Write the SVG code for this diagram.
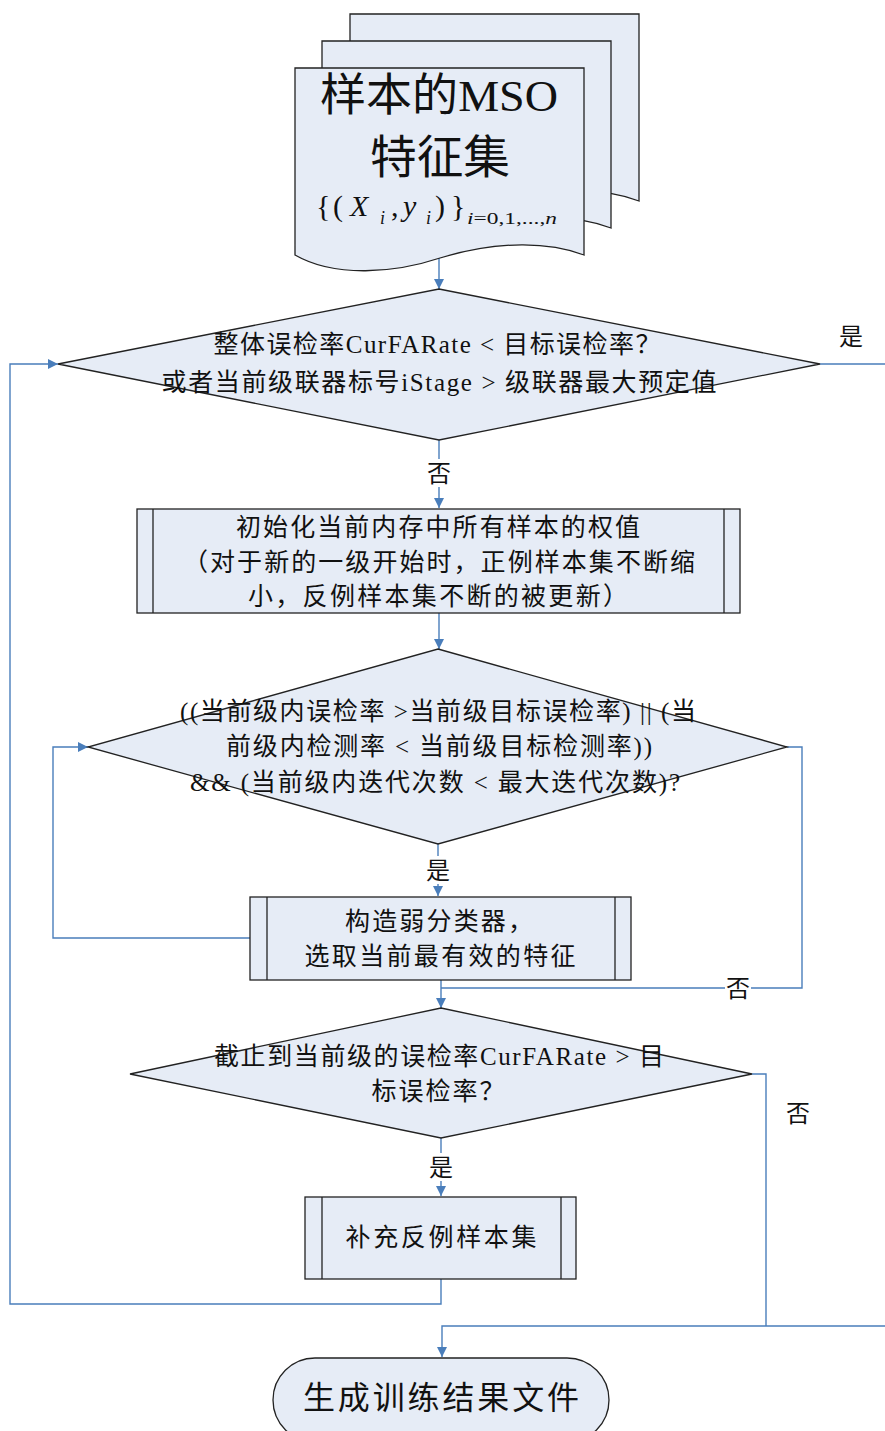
<svg xmlns="http://www.w3.org/2000/svg" width="885" height="1431" viewBox="0 0 885 1431">
<style>
.shape{fill:#e6ecf6;stroke:#222;stroke-width:1.3}
.inner{stroke:#222;stroke-width:1.3;fill:none}
.conn{fill:none;stroke:#4a7ebb;stroke-width:1.4}
.t{font-family:"Liberation Serif","Noto Sans CJK SC",serif;font-size:25px;fill:#111;text-anchor:middle}
.lbl{font-family:"Liberation Serif","Noto Sans CJK SC",serif;font-size:24px;fill:#111;text-anchor:middle}
.bg{fill:#fff}
</style>
<defs>
<marker id="ah" viewBox="0 0 10 10" refX="10" refY="5" markerWidth="10" markerHeight="10" markerUnits="userSpaceOnUse" orient="auto">
<path d="M0,0 L10,5 L0,10 z" fill="#4a7ebb"/>
</marker>
<path id="docShape" d="M295,68 H584 V255 C550,242 500,240 440,258 C395,273 335,278 295,255 Z"/>
</defs>

<g id="connectors">
<path class="conn" d="M439,258 V289" marker-end="url(#ah)"/>
<path class="conn" d="M820,364 H890 V1326 H442 V1357" marker-end="url(#ah)"/>
<path class="conn" d="M439,440 V508" marker-end="url(#ah)"/>
<path class="conn" d="M439,613 V649" marker-end="url(#ah)"/>
<path class="conn" d="M438,844 V896" marker-end="url(#ah)"/>
<path class="conn" d="M250,938 H53 V747 H88" marker-end="url(#ah)"/>
<path class="conn" d="M787,747 H802 V988 H441"/>
<path class="conn" d="M441,980 V1008" marker-end="url(#ah)"/>
<path class="conn" d="M441,1138 V1196" marker-end="url(#ah)"/>
<path class="conn" d="M752,1074 H766 V1326"/>
<path class="conn" d="M441,1279 V1304 H10 V364 H58" marker-end="url(#ah)"/>
<g id="labels">
<rect class="bg" x="838" y="322" width="26" height="28"/>
<text class="lbl" x="851" y="345">是</text>
<rect class="bg" x="426" y="459" width="26" height="28"/>
<text class="lbl" x="439" y="482">否</text>
<rect class="bg" x="425" y="856" width="26" height="28"/>
<text class="lbl" x="438" y="879">是</text>
<rect class="bg" x="725" y="974" width="26" height="28"/>
<text class="lbl" x="738" y="997">否</text>
<rect class="bg" x="785" y="1099" width="26" height="28"/>
<text class="lbl" x="798" y="1122">否</text>
<rect class="bg" x="428" y="1153" width="26" height="28"/>
<text class="lbl" x="441" y="1176">是</text>
</g>
</g>

<g id="doc">
<use href="#docShape" class="shape" transform="translate(55,-54)"/>
<use href="#docShape" class="shape" transform="translate(27,-27)"/>
<use href="#docShape" class="shape"/>
<text class="t" x="439" y="111" style="font-size:45px" textLength="238" lengthAdjust="spacingAndGlyphs">样本的MSO</text>
<text class="t" x="440" y="173" style="font-size:46px" textLength="140" lengthAdjust="spacingAndGlyphs">特征集</text>
<g style="font-family:'Liberation Serif',serif;fill:#111">
<text x="316" y="216" font-size="30">{</text>
<text x="333" y="216" font-size="30">(</text>
<text x="350" y="216" font-size="30" font-style="italic">X</text>
<text x="380" y="224" font-size="18" font-style="italic">i</text>
<text x="391" y="216" font-size="30">,</text>
<text x="403" y="216" font-size="30" font-style="italic">y</text>
<text x="426" y="224" font-size="18" font-style="italic">i</text>
<text x="435" y="216" font-size="30">)</text>
<text x="451" y="216" font-size="30">}</text>
<text x="467" y="224" font-size="17" font-style="italic" textLength="90" lengthAdjust="spacingAndGlyphs">i<tspan font-style="normal">=0,1,...,</tspan>n</text>
</g>
</g>

<g id="d1">
<polygon class="shape" points="439,289 820,364 439,440 58,364"/>
<text class="t" x="437" y="353" textLength="447" lengthAdjust="spacing">整体误检率CurFARate &lt; 目标误检率？</text>
<text class="t" x="439" y="391" textLength="555" lengthAdjust="spacing">或者当前级联器标号iStage &gt; 级联器最大预定值</text>
</g>

<g id="box1">
<rect class="shape" x="137" y="509" width="603" height="104"/>
<line class="inner" x1="153" y1="509" x2="153" y2="613"/>
<line class="inner" x1="724" y1="509" x2="724" y2="613"/>
<text class="t" x="438" y="536" textLength="404" lengthAdjust="spacing">初始化当前内存中所有样本的权值</text>
<text class="t" x="439" y="571" textLength="512" lengthAdjust="spacing">（对于新的一级开始时，正例样本集不断缩</text>
<text class="t" x="438" y="605" textLength="380" lengthAdjust="spacing">小，反例样本集不断的被更新）</text>
</g>

<g id="d2">
<polygon class="shape" points="438,649 787,747 438,844 88,747"/>
<text class="t" x="438" y="720" textLength="516" lengthAdjust="spacing">((当前级内误检率 &gt;当前级目标误检率) || (当</text>
<text class="t" x="439" y="755" textLength="426" lengthAdjust="spacing">前级内检测率 &lt; 当前级目标检测率))</text>
<text class="t" x="435" y="791" textLength="490" lengthAdjust="spacing">&amp;&amp; (当前级内迭代次数 &lt; 最大迭代次数)?</text>
</g>

<g id="box2">
<rect class="shape" x="250" y="897" width="381" height="83"/>
<line class="inner" x1="267" y1="897" x2="267" y2="980"/>
<line class="inner" x1="615" y1="897" x2="615" y2="980"/>
<text class="t" x="439" y="930" textLength="188" lengthAdjust="spacing">构造弱分类器，</text>
<text class="t" x="440" y="965" textLength="271" lengthAdjust="spacing">选取当前最有效的特征</text>
</g>

<g id="d3">
<polygon class="shape" points="441,1008 752,1074 441,1138 130,1074"/>
<text class="t" x="439" y="1065" textLength="450" lengthAdjust="spacing">截止到当前级的误检率CurFARate &gt; 目</text>
<text class="t" x="438" y="1100" textLength="133" lengthAdjust="spacing">标误检率？</text>
</g>

<g id="box3">
<rect class="shape" x="305" y="1197" width="271" height="82"/>
<line class="inner" x1="322" y1="1197" x2="322" y2="1279"/>
<line class="inner" x1="561" y1="1197" x2="561" y2="1279"/>
<text class="t" x="441" y="1246" textLength="191" lengthAdjust="spacing">补充反例样本集</text>
</g>

<g id="terminal">
<rect class="shape" x="273" y="1358" width="336" height="84" rx="42"/>
<text class="t" x="441" y="1409" style="font-size:32px" textLength="276" lengthAdjust="spacing">生成训练结果文件</text>
</g>
</svg>
